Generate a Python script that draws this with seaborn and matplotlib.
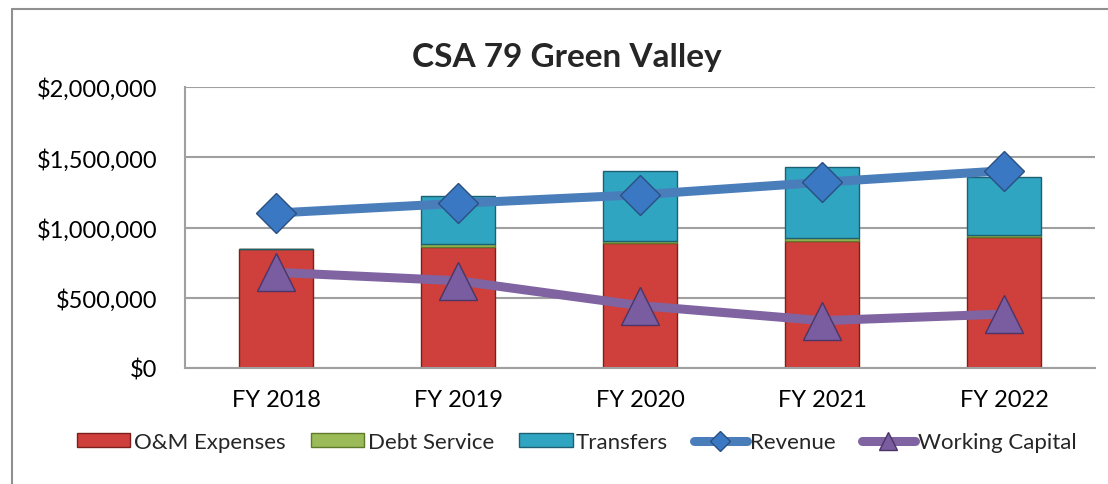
import matplotlib
matplotlib.use("Agg")
import matplotlib.pyplot as plt
from matplotlib.lines import Line2D
from matplotlib.patches import Patch
from matplotlib.ticker import FuncFormatter
import seaborn as sns
import numpy as np
import pandas as pd

# data
years = ["FY 2018", "FY 2019", "FY 2020", "FY 2021", "FY 2022"]
om_expenses = [847000, 859000, 887000, 906000, 930000]
debt_service = [0, 21000, 19000, 19000, 17000]
transfers = [0, 346000, 494000, 503000, 410000]
revenue = [1103000, 1172000, 1233000, 1322000, 1404000]
working_capital = [681000, 621000, 444000, 337000, 384000]

sns.set_theme(style="white")
plt.rcParams["font.family"] = ["Lato", "DejaVu Sans"]

df = pd.DataFrame({"year": years, "om": om_expenses, "debt": debt_service,
                   "transfers": transfers, "revenue": revenue, "wc": working_capital})
df["x"] = np.arange(len(years))

RED, RED_E = "#cf3f3b", "#7d1f1c"
GRN, GRN_E = "#9bbb59", "#5e7a2a"
CYN, CYN_E = "#30a5c1", "#1d5f73"
BLU, BLU_M, BLU_E = "#4a7ebb", "#3b78c4", "#2a4f80"
PUR, PUR_M, PUR_E = "#8064a2", "#7a5ca0", "#4b3566"

fig = plt.figure(figsize=(11.08, 4.85), dpi=100)
ax = fig.add_axes([185 / 1108, 116 / 485, 910 / 1108, 281 / 485])

bw = 0.41
debt_bottom = np.array(om_expenses, dtype=float)
tr_bottom = debt_bottom + np.array(debt_service)

ax.bar(df["x"], df["om"], width=bw, color=RED, edgecolor=RED_E, linewidth=1, zorder=2)
ax.bar(df["x"], df["debt"], bottom=debt_bottom, width=bw, color=GRN,
       edgecolor=GRN_E, linewidth=1, zorder=2)
ax.bar(df["x"], df["transfers"], bottom=tr_bottom, width=bw, color=CYN,
       edgecolor=CYN_E, linewidth=1, zorder=2)

sns.lineplot(data=df, x="x", y="revenue", ax=ax, color=BLU, linewidth=6.5,
             marker="D", markersize=20, markerfacecolor=BLU_M,
             markeredgecolor=BLU_E, markeredgewidth=1, zorder=3, legend=False)
sns.lineplot(data=df, x="x", y="wc", ax=ax, color=PUR, linewidth=6.5,
             marker="^", markersize=27, markerfacecolor=PUR_M,
             markeredgecolor=PUR_E, markeredgewidth=1, zorder=3, legend=False)

ax.set_xlim(-0.5, len(years) - 0.5)
ax.set_ylim(0, 2000000)
ax.set_yticks(np.arange(0, 2000001, 500000))
ax.yaxis.set_major_formatter(FuncFormatter(lambda v, p: "${:,.0f}".format(v)))
ax.set_xticks(df["x"])
ax.set_xticklabels(years)
ax.set_xlabel("")
ax.set_ylabel("")
ax.grid(axis="y", color="#a0a0a0", linewidth=1.5, zorder=0)
ax.set_axisbelow(True)
for s in ["top", "right"]:
    ax.spines[s].set_visible(False)
for s in ["left", "bottom"]:
    ax.spines[s].set_color("#a0a0a0")
    ax.spines[s].set_linewidth(1.5)
ax.tick_params(axis="both", length=0, labelsize=17, colors="black")
ax.tick_params(axis="y", pad=20)
ax.tick_params(axis="x", pad=15)

handles = [
    Patch(facecolor=RED, edgecolor=RED_E, label="O&M Expenses"),
    Patch(facecolor=GRN, edgecolor=GRN_E, label="Debt Service"),
    Patch(facecolor=CYN, edgecolor=CYN_E, label="Transfers"),
    Line2D([], [], color=BLU, linewidth=6.5, solid_capstyle="round", marker="D",
           markersize=10, markerfacecolor=BLU_M, markeredgecolor=BLU_E, label="Revenue"),
    Line2D([], [], color=PUR, linewidth=6.5, solid_capstyle="round", marker="^",
           markersize=13, markerfacecolor=PUR_M, markeredgecolor=PUR_E, label="Working Capital"),
]
fig.legend(handles=handles, loc="center", bbox_to_anchor=(577 / 1108, 1 - 443 / 485),
           ncol=5, frameon=False, fontsize=16, handlelength=2.4, handleheight=0.6,
           handletextpad=0.15, columnspacing=1.15)

fig.text(567 / 1108, 1 - 57 / 485, "CSA 79 Green Valley", ha="center", va="center",
         fontsize=24, fontweight="bold")

# outer chart frame (left and top edges)
fig.add_artist(Line2D([12 / 1108, 12 / 1108], [0, 1 - 10 / 485], color="#909090", linewidth=1.5))
fig.add_artist(Line2D([12 / 1108, 1], [1 - 10 / 485, 1 - 10 / 485], color="#909090", linewidth=1.5))

fig.savefig("out.png", dpi=100)
